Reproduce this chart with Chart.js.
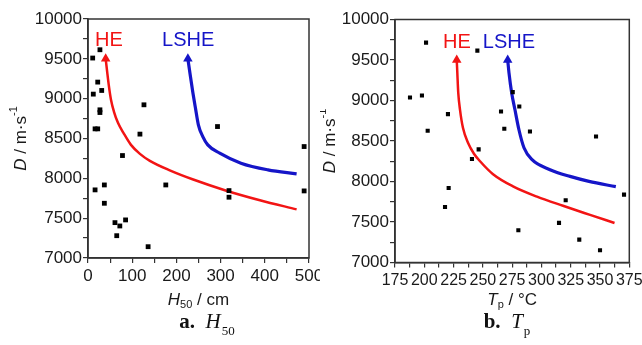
<!DOCTYPE html>
<html>
<head>
<meta charset="utf-8">
<script src="https://cdn.jsdelivr.net/npm/chart.js@4.4.1/dist/chart.umd.min.js"></script>
<style>
  html,body{margin:0;padding:0;background:#fff;}
  #wrap{position:relative;width:642px;height:345px;overflow:hidden;}
  .pane{position:absolute;top:0;height:345px;}
  .cap{position:absolute;top:309px;width:200px;text-align:center;font-family:"Liberation Serif","DejaVu Serif",serif;font-size:21px;color:#111;white-space:nowrap;}
  .cap b{font-weight:bold;}
  .cap i{font-style:italic;}
  .cap .sb{font-size:13px;position:relative;top:7px;margin-left:1px;}
</style>
</head>
<body>
<div id="wrap">
  <div class="pane" style="left:0;width:320px;"><canvas id="ca" width="320" height="345"></canvas></div>
  <div class="pane" style="left:320px;width:322px;"><canvas id="cb" width="322" height="345"></canvas></div>
  <div class="cap" style="left:107px;"><b>a.</b>&nbsp; <i>H</i><span class="sb">50</span></div>
  <div class="cap" style="left:407px;"><b>b.</b>&nbsp; <i>T</i><span class="sb">p</span></div>
</div>
<script>
// ---------- Panel a: H50 ----------
const h50Values = [10.6, 27, 22, 31, 12, 27, 27, 16, 22, 78, 117.5, 126.6, 293, 489, 16, 37, 37, 61, 72, 65, 85, 136, 176, 319, 319, 489];
const dA        = [9510, 9614, 9208, 9103, 9057, 8860, 8826, 8621, 8621, 8286, 8555, 8923, 8650, 8399, 7855, 7917, 7687, 7444, 7402, 7280, 7478, 7142, 7917, 7846, 7763, 7842];
const heCurveA_H = [40, 43.5, 47, 52, 58.8, 67.8, 80.2, 97.2, 117.5, 140, 185, 238, 313, 389, 472];
const heCurveA_D = [9500, 9330, 9170, 8986, 8835, 8697, 8571, 8420, 8307, 8219, 8100, 7985, 7845, 7725, 7610];
const lsheCurveA_H = [226, 230.5, 237.3, 243, 249.7, 260, 271, 298, 346, 407, 472];
const lsheCurveA_D = [9500, 9325, 9074, 8885, 8672, 8521, 8420, 8316, 8190, 8106, 8056];

// ---------- Panel b: Tp ----------
const tpValues = [201.5, 245.3, 187.8, 198.0, 202.9, 220.2, 265.5, 268.3, 275.5, 281.1, 290.2, 346.6, 246.4, 240.7, 217.7, 220.8, 280.3, 315.0, 320.7, 332.3, 350.0, 370.5];
const dB       = [9714, 9616, 9037, 9061, 8626, 8832, 8864, 8651, 9103, 8926, 8618, 8556, 8396, 8278, 7686, 7920, 7398, 7489, 7768, 7283, 7152, 7838];
const heCurveB_T = [227.7, 228.2, 229.0, 230.5, 233.0, 237.3, 242.4, 247.6, 258.7, 275.7, 296.2, 318.4, 341.5, 362.4];
const heCurveB_D = [9500, 9341, 9094, 8885, 8663, 8478, 8343, 8250, 8090, 7940, 7813, 7700, 7588, 7488];
const lsheCurveB_T = [271.2, 272.3, 274.6, 277.4, 280.8, 285.1, 292.0, 307.3, 324.4, 340.6, 363.5];
const lsheCurveB_D = [9500, 9341, 9094, 8885, 8639, 8417, 8269, 8146, 8063, 8002, 7936];

// label anchors (data coordinates)
const labelsA = [{text:'HE', x:47.5, y:9734, color:'#f21414'}, {text:'LSHE', x:226.7, y:9734, color:'#1515c8'}];
const labelsB = [{text:'HE', x:227.9, y:9717, color:'#f21414'}, {text:'LSHE', x:272.3, y:9717, color:'#1515c8'}];

const RED = '#f21414', BLUE = '#1515c8', INK = '#1a1a1a';
const FONT = '"Liberation Sans", Arial, sans-serif';

function zip(xs, ys){ return xs.map((v,i)=>({x:v, y:ys[i]})); }

function drawRich(ctx, parts, cx, cy, rotate){
  ctx.save();
  ctx.translate(cx, cy);
  if (rotate) ctx.rotate(-Math.PI/2);
  const fontOf = p => (p.italic?'italic ':'') + (p.sub||p.sup? '11px ':'17px ') + FONT;
  let total = 0;
  parts.forEach(p => { ctx.font = fontOf(p); p.w = ctx.measureText(p.t).width; total += p.w; });
  let x = -total/2;
  ctx.fillStyle = INK; ctx.textBaseline = 'middle'; ctx.textAlign = 'left';
  parts.forEach(p => {
    ctx.font = fontOf(p);
    const dy = p.sub ? 5 : (p.sup ? -7 : 0);
    ctx.fillText(p.t, x, dy);
    x += p.w;
  });
  ctx.restore();
}

const decor = {
  id: 'decor',
  afterDraw(chart, args, o){
    const {ctx, chartArea:a, scales:{x, y}} = chart;
    ctx.save();
    ctx.strokeStyle = '#333'; ctx.lineWidth = 1.5;
    ctx.strokeRect(a.left, a.top, a.right - a.left, a.bottom - a.top);
    ctx.font = '20px ' + FONT; ctx.textAlign = 'center'; ctx.textBaseline = 'middle';
    o.labels.forEach(l => { ctx.fillStyle = l.color; ctx.fillText(l.text, x.getPixelForValue(l.x), y.getPixelForValue(l.y)); });
    ctx.restore();
    drawRich(ctx, o.xTitle, (a.left + a.right)/2, o.xTitleY, false);
    drawRich(ctx, o.yTitle, o.yTitleX, (a.top + a.bottom)/2, true);
  }
};

function curve(data, color, width){
  return {
    type: 'line', data, borderColor: color, borderWidth: width, cubicInterpolationMode: 'monotone', fill: false,
    pointStyle: 'triangle', pointRadius: c => c.dataIndex === 0 ? 5.5 : 0,
    pointBackgroundColor: color, pointBorderColor: color, pointBorderWidth: 0, pointHoverRadius: 0
  };
}

function makeChart(id, cfg){
  return new Chart(document.getElementById(id), {
    type: 'scatter',
    data: { datasets: [
      { data: cfg.points, pointStyle: 'rect', pointRadius: cfg.ptR, backgroundColor: '#000', borderColor: '#000', borderWidth: 0, pointHoverRadius: cfg.ptR },
      curve(cfg.he, RED, 2.5),
      curve(cfg.lshe, BLUE, 3.2)
    ]},
    options: {
      responsive: false, animation: false, devicePixelRatio: 1,
      layout: { padding: { top: cfg.top, right: cfg.right, left: 0, bottom: 0 } },
      plugins: { legend: {display:false}, tooltip: {enabled:false},
        decor: { labels: cfg.labels, xTitle: cfg.xTitle, yTitle: cfg.yTitle, xTitleY: 300, yTitleX: cfg.yTitleX } },
      scales: {
        x: { type: 'linear', min: cfg.xmin, max: cfg.xmax,
          ticks: { stepSize: cfg.xstep, autoSkip: false, maxRotation: 0, minRotation: 0, padding: 3, color: INK,
                   font: { family: FONT, size: cfg.xFont },
                   callback: v => (Math.abs(v / cfg.xmajor - Math.round(v / cfg.xmajor)) < 1e-6) ? String(v) : '' },
          grid: { drawOnChartArea: false, tickLength: 5, color: '#333', lineWidth: 1.2 },
          border: { display: true, color: '#333', width: 1.5 },
          afterFit(s){ s.height = cfg.xH; s.paddingLeft = 0; s.paddingRight = 0; } },
        y: { type: 'linear', min: 7000, max: 10000,
          ticks: { stepSize: 250, autoSkip: false, padding: 1, color: INK, font: { family: FONT, size: 17 },
                   callback: v => v % 500 === 0 ? String(v) : '' },
          grid: { drawOnChartArea: false, tickLength: 5, color: '#333', lineWidth: 1.2 },
          border: { display: true, color: '#333', width: 1.5 },
          afterFit(s){ s.width = cfg.yW; s.paddingTop = 0; s.paddingBottom = 0; } }
      }
    },
    plugins: [decor]
  });
}

const yTitle = [{t:'D', italic:true}, {t:' / m·s'}, {t:'-1', sup:true}];

makeChart('ca', {
  points: zip(h50Values, dA), ptR: 3.4,
  he: zip(heCurveA_H, heCurveA_D), lshe: zip(lsheCurveA_H, lsheCurveA_D),
  labels: labelsA, top: 19, right: 11, xH: 87, yW: 88,
  xmin: 0, xmax: 500, xstep: 50, xmajor: 100, xFont: 17,
  xTitle: [{t:'H', italic:true}, {t:'50', sub:true}, {t:' / cm'}], yTitle, yTitleX: 21
});

makeChart('cb', {
  points: zip(tpValues, dB), ptR: 2.9,
  he: zip(heCurveB_T, heCurveB_D), lshe: zip(lsheCurveB_T, lsheCurveB_D),
  labels: labelsB, top: 19.5, right: 12.7, xH: 82.5, yW: 75,
  xmin: 175, xmax: 375, xstep: 12.5, xmajor: 25, xFont: 16,
  xTitle: [{t:'T', italic:true}, {t:'p', sub:true}, {t:' / °C'}], yTitle, yTitleX: 10
});
</script>
</body>
</html>
